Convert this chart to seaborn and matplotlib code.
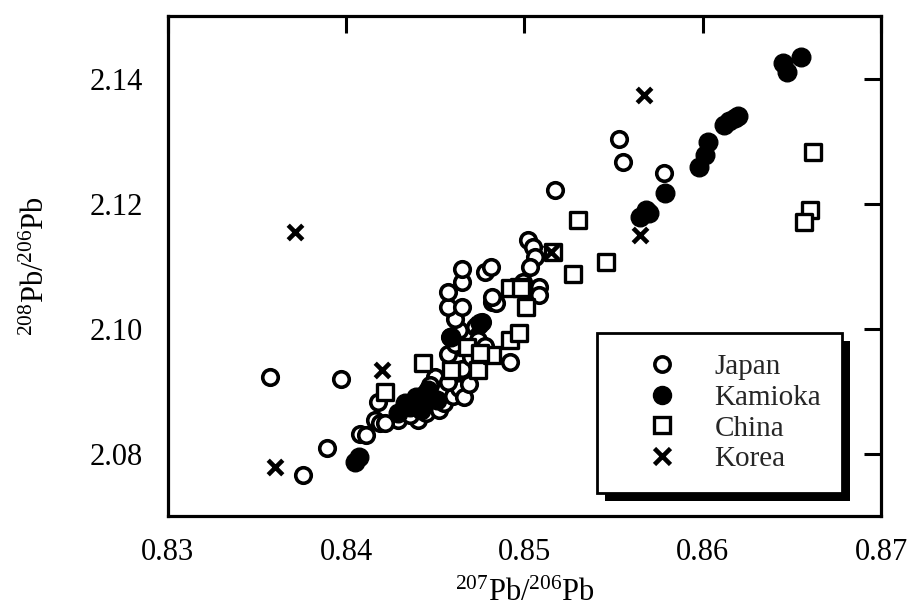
import matplotlib
matplotlib.use("Agg")
import matplotlib.pyplot as plt
from matplotlib.lines import Line2D
from matplotlib.patches import Rectangle
import numpy as np
import pandas as pd
import seaborn as sns

# 207Pb/206Pb and 208Pb/206Pb ratios of lead samples by origin
japan_x = [0.8357, 0.8397, 0.8376, 0.8389, 0.8408, 0.8411, 0.8416, 0.8419, 0.8418,
           0.8429, 0.8440, 0.8436, 0.8445, 0.8452, 0.8455, 0.8460, 0.8463, 0.8450,
           0.8447, 0.8457, 0.8466, 0.8469, 0.8465, 0.8457, 0.8461, 0.8458, 0.8463,
           0.8461, 0.8472, 0.8474, 0.8478, 0.8457, 0.8465, 0.8457, 0.8465, 0.8465,
           0.8478, 0.8481, 0.8482, 0.8484, 0.8482, 0.8499, 0.8508, 0.8508, 0.8502,
           0.8505, 0.8506, 0.8503, 0.8492, 0.8517, 0.8553, 0.8555, 0.8578, 0.8476,
           0.8470, 0.8422]
japan_y = [2.0923, 2.0920, 2.0766, 2.0809, 2.0831, 2.0830, 2.0854, 2.0849, 2.0883,
           2.0854, 2.0854, 2.0862, 2.0865, 2.0870, 2.0881, 2.0892, 2.0905, 2.0923,
           2.0910, 2.0915, 2.0890, 2.0912, 2.0935, 2.0959, 2.0975, 2.0987, 2.0997,
           2.1015, 2.1003, 2.0982, 2.0972, 2.1035, 2.1035, 2.1059, 2.1075, 2.1096,
           2.1091, 2.1099, 2.1043, 2.1041, 2.1051, 2.1075, 2.1067, 2.1054, 2.1142,
           2.1130, 2.1114, 2.1099, 2.0947, 2.1221, 2.1304, 2.1267, 2.1249, 2.1010,
           2.0955, 2.0849]

kamioka_x = [0.8405, 0.8407, 0.8429, 0.8433, 0.8436, 0.8439, 0.8442, 0.8446, 0.8451,
             0.8444, 0.8459, 0.8475, 0.8565, 0.8570, 0.8568, 0.8579, 0.8598, 0.8601,
             0.8603, 0.8612, 0.8615, 0.8618, 0.8620, 0.8645, 0.8647, 0.8655]
kamioka_y = [2.0786, 2.0794, 2.0865, 2.0881, 2.0875, 2.0891, 2.0870, 2.0902, 2.0886,
             2.0895, 2.0987, 2.1009, 2.1179, 2.1185, 2.1190, 2.1217, 2.1259, 2.1278,
             2.1299, 2.1326, 2.1332, 2.1337, 2.1340, 2.1425, 2.1410, 2.1435]

china_x = [0.8422, 0.8443, 0.8459, 0.8468, 0.8474, 0.8482, 0.8492, 0.8497, 0.8497,
           0.8501, 0.8492, 0.8498, 0.8516, 0.8527, 0.8530, 0.8546, 0.8662, 0.8660,
           0.8657, 0.8475]
china_y = [2.0899, 2.0945, 2.0934, 2.0970, 2.0934, 2.0958, 2.0982, 2.0993, 2.1067,
           2.1035, 2.1065, 2.1065, 2.1123, 2.1087, 2.1174, 2.1107, 2.1283, 2.1189,
           2.1171, 2.0961]

korea_x = [0.8371, 0.8360, 0.8420, 0.8567, 0.8565, 0.8515, 0.8474]
korea_y = [2.1154, 2.0779, 2.0934, 2.1374, 2.1150, 2.1123, 2.1005]

x_ticks = [0.83, 0.84, 0.85, 0.86, 0.87]
y_ticks = [2.08, 2.10, 2.12, 2.14]
x_tick_labels = ["0.83", "0.84", "0.85", "0.86", "0.87"]
y_tick_labels = ["2.08", "2.10", "2.12", "2.14"]

frames = []
for name, xs, ys in [("Japan", japan_x, japan_y), ("Kamioka", kamioka_x, kamioka_y),
                     ("China", china_x, china_y), ("Korea", korea_x, korea_y)]:
    frames.append(pd.DataFrame({"r207": xs, "r208": ys, "origin": name}))
df = pd.concat(frames, ignore_index=True)

sns.set_theme(style="white")
plt.rcParams["font.family"] = ["Liberation Serif", "DejaVu Serif"]
plt.rcParams["mathtext.fontset"] = "custom"
plt.rcParams["mathtext.rm"] = "Liberation Serif"
plt.rcParams["mathtext.it"] = "Liberation Serif:italic"
plt.rcParams["mathtext.default"] = "regular"

fig = plt.figure(figsize=(9.09, 6.08), dpi=100)
ax = fig.add_axes([0.1848, 0.151, 0.7844, 0.8227])

styles = {
    "Japan": dict(marker="o", s=125, facecolor="white", edgecolor="black", linewidth=2.6),
    "Kamioka": dict(marker="o", s=180, facecolor="black", edgecolor="black", linewidth=1.0),
    "China": dict(marker="s", s=125, facecolor="white", edgecolor="black", linewidth=2.4),
    "Korea": dict(marker="x", s=110, color="black", linewidth=3.3),
}
for name in ["Japan", "China", "Kamioka", "Korea"]:
    sub = df[df["origin"] == name]
    sns.scatterplot(data=sub, x="r207", y="r208", ax=ax, legend=False, zorder=3,
                    **styles[name])

ax.set_xlim(0.83, 0.87)
ax.set_ylim(2.07, 2.15)
ax.set_xticks(x_ticks)
ax.set_xticklabels(x_tick_labels)
ax.set_yticks(y_ticks)
ax.set_yticklabels(y_tick_labels)
ax.tick_params(direction="in", length=12, width=2.2, labelsize=22, colors="black",
               top=True, right=True)
ax.tick_params(axis="x", pad=16)
ax.tick_params(axis="y", pad=18)
for sp in ax.spines.values():
    sp.set_visible(True)
    sp.set_linewidth(2.3)
    sp.set_color("black")

ax.set_xlabel(r"$^{207}$Pb/$^{206}$Pb", fontsize=22, labelpad=8, color="black")
ax.set_ylabel(r"$^{208}$Pb/$^{206}$Pb", fontsize=22, labelpad=28, color="black")

handles = [
    Line2D([], [], linestyle="none", marker="o", markersize=11, markerfacecolor="white",
           markeredgecolor="black", markeredgewidth=2.6),
    Line2D([], [], linestyle="none", marker="o", markersize=13, markerfacecolor="black",
           markeredgecolor="black"),
    Line2D([], [], linestyle="none", marker="s", markersize=11, markerfacecolor="white",
           markeredgecolor="black", markeredgewidth=2.4),
    Line2D([], [], linestyle="none", marker="x", markersize=11, color="black",
           markeredgewidth=3.3),
]
leg = ax.legend(handles, ["Japan", "Kamioka", "China", "Korea"], loc="upper left",
                bbox_to_anchor=(0.601, 0.366), borderaxespad=0, fontsize=21,
                frameon=True, fancybox=False, borderpad=0.7, handlelength=3.1,
                handletextpad=0.25, labelspacing=0.15)
leg.get_frame().set_edgecolor("black")
leg.get_frame().set_linewidth(2.0)
leg.get_frame().set_alpha(1)

# drop shadow below-right of the legend box
fig.canvas.draw()
bb = leg.get_window_extent()
off = 8
inv = ax.transAxes.inverted()
(x0, y0) = inv.transform((bb.x0 + off, bb.y0 - off))
(x1, y1) = inv.transform((bb.x1 + off, bb.y1 - off))
ax.add_patch(Rectangle((x0, y0), x1 - x0, y1 - y0, transform=ax.transAxes,
                       facecolor="black", edgecolor="none", zorder=4.5, clip_on=False))
leg.set_zorder(5)

fig.savefig("out.png", dpi=100)
